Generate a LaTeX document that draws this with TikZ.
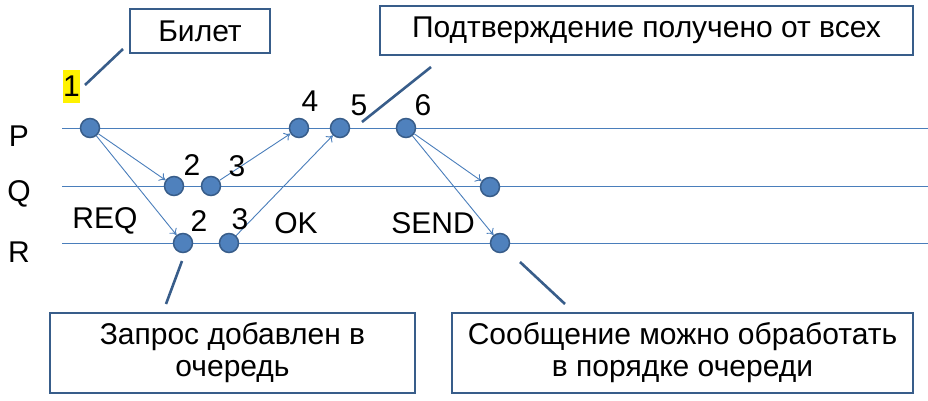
\documentclass[tikz,border=0pt]{standalone}
\usepackage{fontspec}
\setmainfont{Liberation Sans}
\usetikzlibrary{arrows.meta}
\definecolor{lineblue}{HTML}{4A7EBB}
\definecolor{dotblue}{HTML}{4F81BD}
\definecolor{boxblue}{HTML}{385D8A}
\tikzset{
    note-box/.style = {draw=boxblue, fill=white, line width=2pt, rectangle, inner sep=0pt, align=center, font=\fontsize{30}{32}\selectfont},
    event-dot/.style = {draw=boxblue, fill=dotblue, line width=1.5pt, circle, inner sep=0pt, minimum size=19pt},
    time-line/.style = {draw=lineblue, line width=0.9pt},
    msg-arrow/.style = {draw=lineblue, line width=0.9pt, -{To[length=6pt,width=9pt]}},
    callout-line/.style = {draw=boxblue, line width=2.6pt},
    tag/.style = {inner sep=1pt, font=\fontsize{30}{30}\selectfont},
}

\begin{document}
\begin{tikzpicture}[x=1pt, y=-1pt]
\useasboundingbox (0,0) rectangle (928,401);
% process lines
\coordinate (p-start) at (62,128); \coordinate (p-end) at (928,128);
\coordinate (q-start) at (62,186); \coordinate (q-end) at (928,186);
\coordinate (r-start) at (62,243); \coordinate (r-end) at (928,243);
\draw[time-line] (p-start) -- (p-end);
\draw[time-line] (q-start) -- (q-end);
\draw[time-line] (r-start) -- (r-end);
\node[tag] (p-label) at (19,136) {P};
\node[tag] (q-label) at (19,194) {Q};
\node[tag] (r-label) at (19,252) {R};

% events
\node[event-dot] (p1) at (90,128) {};
\node[event-dot] (p4) at (299,128) {};
\node[event-dot] (p5) at (340,128) {};
\node[event-dot] (p6) at (406,128) {};
\node[event-dot] (q2) at (174,186) {};
\node[event-dot] (q3) at (211,186) {};
\node[event-dot] (q6) at (490,187) {};
\node[event-dot] (r2) at (183,243) {};
\node[event-dot] (r3) at (229,243) {};
\node[event-dot] (r6) at (500,243) {};

% messages
\draw[msg-arrow] (p1) -- (q2);
\draw[msg-arrow] (p1) -- (r2);
\draw[msg-arrow] (q3) -- (p4);
\draw[msg-arrow] (r3) -- (p5);
\draw[msg-arrow] (p6) -- (q6);
\draw[msg-arrow] (p6) -- (r6);

% clock values
\node[tag, fill=yellow, inner sep=0pt, minimum width=17pt, minimum height=33pt] (t1) at (71.5,86.5) {1};
\node[tag] (t4) at (310,101) {4};
\node[tag] (t5) at (359,105) {5};
\node[tag] (t6) at (423,105) {6};
\node[tag] (tq2) at (192,165) {2};
\node[tag] (tq3) at (237,166) {3};
\node[tag] (tr2) at (199,221) {2};
\node[tag] (tr3) at (240,219) {3};
\node[tag] (req) at (105,221) {REQ};
\node[tag] (ok) at (296,223) {OK};
\node[tag] (send) at (433,223) {SEND};

% notes
\node[note-box, minimum width=140pt, minimum height=44pt] (ticket) at (200,31) {Билет};
\node[note-box, minimum width=533pt, minimum height=49pt] (ack) at (646.5,30.5) {Подтверждение получено от всех};
\node[note-box, minimum width=365pt, minimum height=80pt] (queued) at (232.5,353) {Запрос добавлен в\\очередь};
\node[note-box, minimum width=461pt, minimum height=80pt] (ready) at (682.5,353) {Сообщение можно обработать\\в порядке очереди};

\coordinate (ticket-tip) at (85,85); \coordinate (ticket-end) at (123,49);
\coordinate (ack-tip) at (362,122); \coordinate (ack-end) at (431,67);
\coordinate (queued-tip) at (182,261); \coordinate (queued-end) at (166,304);
\coordinate (ready-tip) at (520,262); \coordinate (ready-end) at (565,304);
\draw[callout-line] (ticket-tip) -- (ticket-end);
\draw[callout-line] (ack-tip) -- (ack-end);
\draw[callout-line] (queued-tip) -- (queued-end);
\draw[callout-line] (ready-tip) -- (ready-end);
\end{tikzpicture}
\end{document}
